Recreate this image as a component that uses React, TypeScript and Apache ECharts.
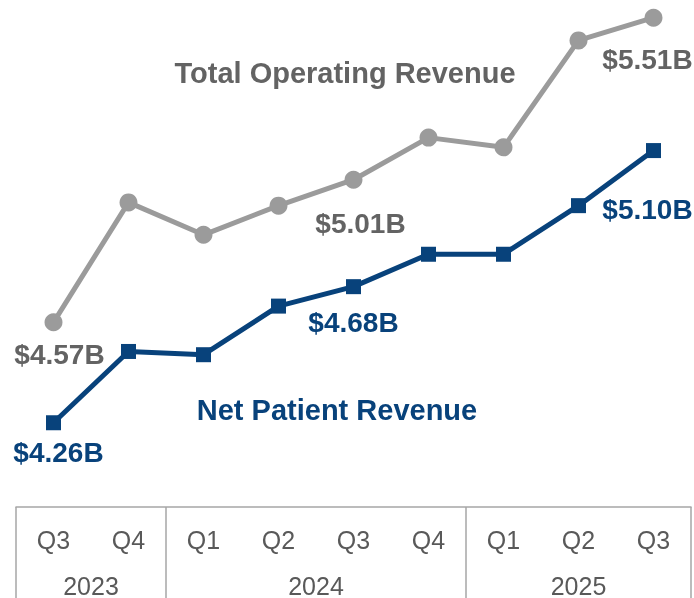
import React, { useEffect, useRef } from "react";
import * as echarts from "echarts";

const quarters = ["Q3", "Q4", "Q1", "Q2", "Q3", "Q4", "Q1", "Q2", "Q3"];
const years = ["2023", "2024", "2025"];
const quartersPerYear = [2, 4, 3];

const totalOperatingRevenue = [4.57, 4.94, 4.84, 4.93, 5.01, 5.14, 5.11, 5.44, 5.51];
const netPatientRevenue = [4.26, 4.48, 4.47, 4.62, 4.68, 4.78, 4.78, 4.93, 5.1];

// which points carry a value label
const totalLabelIdx = [0, 4, 8];
const netLabelIdx = [0, 4, 8];

const GRAY_LINE = "#9b9b9b";
const GRAY_TEXT = "#636363";
const BLUE = "#08427b";
const AXIS_TEXT = "#595959";
const FONT = "'Liberation Sans', Arial, sans-serif";

export default function App() {
  const ref = useRef<HTMLDivElement>(null);

  useEffect(() => {
    if (!ref.current) return;
    const chart = echarts.init(ref.current, undefined, { renderer: "svg" });

    // year group boundaries and centres on a -0.5..8.5 value scale
    const bounds: number[] = [-0.5];
    const centres: number[] = [];
    let acc = 0;
    quartersPerYear.forEach((n) => {
      centres.push(acc + (n - 1) / 2);
      acc += n;
      bounds.push(acc - 0.5);
    });

    const totalOffsets: Record<number, number[]> = { 0: [6, 32], 4: [7, 44], 8: [-6, 42] };
    const netOffsets: Record<number, number[]> = { 0: [5, 30], 4: [0, 36], 8: [-6, 59] };

    const labelStyle = (color: string) => ({
      fontFamily: FONT,
      fontWeight: "bold" as const,
      fontSize: 28,
      color,
    });

    const totalData = totalOperatingRevenue.map((v, i) =>
      totalLabelIdx.includes(i)
        ? {
            value: v,
            label: {
              show: true,
              position: "inside",
              offset: totalOffsets[i],
              formatter: "$" + v.toFixed(2) + "B",
              ...labelStyle(GRAY_TEXT),
            },
          }
        : v
    );
    const netData = netPatientRevenue.map((v, i) =>
      netLabelIdx.includes(i)
        ? {
            value: v,
            label: {
              show: true,
              position: "inside",
              offset: netOffsets[i],
              formatter: "$" + v.toFixed(2) + "B",
              ...labelStyle(BLUE),
            },
          }
        : v
    );

    const tableLine = { color: "#a6a6a6", width: 1.5 };

    chart.setOption({
      animation: false,
      grid: { left: 16, right: 3, top: 8, bottom: 90, containLabel: false },
      xAxis: [
        {
          type: "category",
          data: quarters,
          boundaryGap: true,
          position: "bottom",
          axisLine: { show: true, lineStyle: tableLine },
          axisTick: { show: false },
          axisLabel: {
            interval: 0,
            margin: 20,
            fontFamily: FONT,
            fontSize: 25,
            color: AXIS_TEXT,
          },
        },
        {
          type: "value",
          min: -0.5,
          max: 8.5,
          position: "bottom",
          splitLine: { show: false },
          axisLine: { show: false },
          axisTick: {
            show: true,
            customValues: bounds,
            length: 100,
            lineStyle: tableLine,
          },
          axisLabel: {
            customValues: centres,
            margin: 66,
            fontFamily: FONT,
            fontSize: 25,
            color: AXIS_TEXT,
            formatter: (val: number) => {
              const k = centres.findIndex((c) => Math.abs(c - val) < 1e-6);
              return k >= 0 ? years[k] : "";
            },
          },
        },
      ],
      yAxis: {
        type: "value",
        min: 4.0,
        max: 5.54,
        show: false,
        splitLine: { show: false },
      },
      graphic: [
        {
          type: "text",
          x: 345,
          y: 73,
          style: {
            text: "Total Operating Revenue",
            font: "bold 29px " + FONT,
            fill: GRAY_TEXT,
            align: "center",
            verticalAlign: "middle",
          },
        },
        {
          type: "text",
          x: 337,
          y: 410,
          style: {
            text: "Net Patient Revenue",
            font: "bold 29px " + FONT,
            fill: BLUE,
            align: "center",
            verticalAlign: "middle",
          },
        },
      ],
      series: [
        {
          name: "Total Operating Revenue",
          type: "line",
          xAxisIndex: 0,
          data: totalData,
          symbol: "circle",
          symbolSize: 18,
          clip: false,
          lineStyle: { color: GRAY_LINE, width: 5 },
          itemStyle: { color: GRAY_LINE },
          emphasis: { disabled: true },
        },
        {
          name: "Net Patient Revenue",
          type: "line",
          xAxisIndex: 0,
          data: netData,
          symbol: "rect",
          symbolSize: 15,
          clip: false,
          lineStyle: { color: BLUE, width: 5 },
          itemStyle: { color: BLUE },
          emphasis: { disabled: true },
        },
      ],
    });

    return () => chart.dispose();
  }, []);

  return (
    <div
      ref={ref}
      style={{ position: "fixed", left: 0, top: 0, width: 694, height: 598 }}
    />
  );
}
